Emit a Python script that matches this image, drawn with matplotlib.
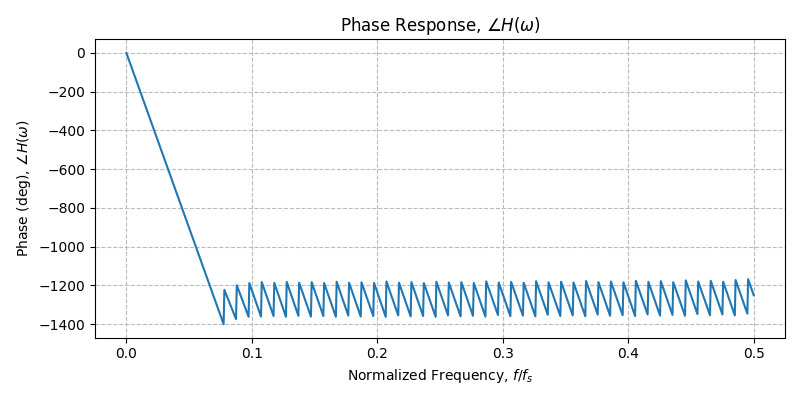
import numpy as np
import matplotlib
matplotlib.use("Agg")
import matplotlib.pyplot as plt

# passband: linear phase from (0, 0) down to the band edge
pass_freq = [0.0, 0.0775]
pass_phase = [0.0, -1400.0]

# stopband: sawtooth, one tooth per zero of H (freq of each +180 jump)
jump_freq = [0.0781, 0.0880, 0.0980, 0.1079, 0.1179, 0.1278, 0.1377, 0.1477,
             0.1576, 0.1676, 0.1775, 0.1874, 0.1974, 0.2073, 0.2173, 0.2272,
             0.2371, 0.2471, 0.2570, 0.2670, 0.2769, 0.2868, 0.2968, 0.3067,
             0.3167, 0.3266, 0.3365, 0.3465, 0.3564, 0.3664, 0.3763, 0.3862,
             0.3962, 0.4061, 0.4161, 0.4260, 0.4359, 0.4459, 0.4558, 0.4658,
             0.4757, 0.4856, 0.4956]
top_phase = [-1223, -1199, -1188, -1183, -1187, -1182, -1186, -1183, -1188,
             -1181, -1186, -1184, -1187, -1180, -1186, -1183, -1188, -1181,
             -1185, -1183, -1187, -1179, -1185, -1182, -1186, -1178, -1184,
             -1181, -1185, -1177, -1183, -1180, -1184, -1176, -1182, -1178,
             -1183, -1174, -1180, -1176, -1181, -1172, -1168]
bottom_phase = [-1400, -1374, -1362, -1361, -1358, -1362, -1357, -1361, -1358,
                -1362, -1356, -1361, -1358, -1362, -1355, -1360, -1358, -1362,
                -1355, -1360, -1357, -1361, -1353, -1359, -1356, -1360, -1352,
                -1358, -1355, -1359, -1351, -1357, -1354, -1358, -1350, -1356,
                -1352, -1357, -1348, -1354, -1350, -1355, -1346]
end_freq = 0.5
end_phase = -1250

# build the path: bottom just before each jump, top right after
f = list(pass_freq[:1])
p = list(pass_phase[:1])
for fj, lo, hi in zip(jump_freq, bottom_phase, top_phase):
    f += [fj - 0.0006, fj]
    p += [lo, hi]
f.append(end_freq)
p.append(end_phase)

fig, ax = plt.subplots(figsize=(8, 4), dpi=100)
ax.plot(f, p, color="C0", linewidth=1.5)
ax.set_title(r"Phase Response, $\angle H(\omega)$", fontsize=12)
ax.set_xlabel(r"Normalized Frequency, $f/f_s$")
ax.set_ylabel(r"Phase (deg), $\angle H(\omega)$")
ax.grid(True, linestyle="--", color="#bbbbbb")
plt.tight_layout()
plt.savefig("out.png")
